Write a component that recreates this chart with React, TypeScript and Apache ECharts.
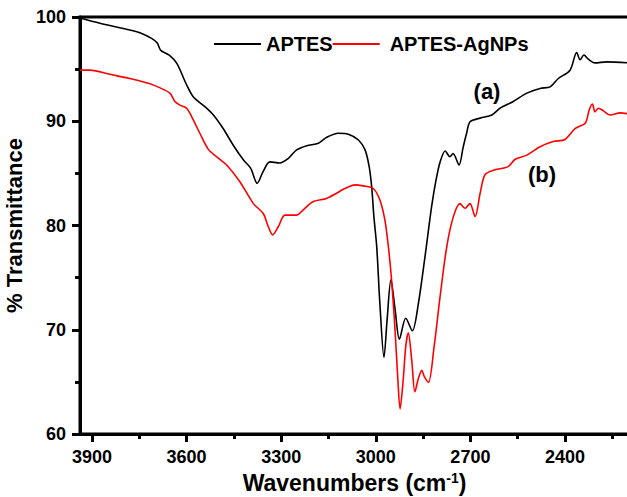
import React, { useEffect, useRef } from "react";
import * as echarts from "echarts";

const aptesWn = [3938, 3875, 3780, 3748, 3711, 3693, 3682, 3655, 3631, 3600, 3579, 3542, 3515, 3484, 3452, 3420, 3397, 3376, 3357, 3336, 3304, 3277, 3251, 3219, 3182, 3156, 3119, 3087, 3055, 3034, 3021, 3013, 3006, 2997, 2987, 2974, 2964, 2952, 2939, 2925, 2905, 2884, 2865, 2844, 2823, 2809, 2796, 2780, 2765, 2755, 2736, 2723, 2712, 2701, 2669, 2632, 2606, 2564, 2521, 2479, 2447, 2421, 2384, 2363, 2352, 2340, 2326, 2305, 2268, 2197];
const aptesT = [99.9, 99.4, 98.75, 98.5, 97.95, 97.5, 96.8, 96.35, 95.55, 93.5, 92.35, 91.4, 90.6, 89.3, 87.7, 86.3, 85.5, 84.05, 85.2, 86.1, 86.0, 86.45, 87.25, 87.65, 87.9, 88.45, 88.85, 88.75, 88.2, 87.25, 85.65, 83.7, 80.85, 77.95, 72.5, 67.35, 71.0, 74.8, 72.0, 69.1, 71.1, 69.9, 72.5, 77.0, 81.8, 84.35, 86.1, 87.15, 86.6, 86.9, 85.8, 87.5, 88.85, 89.95, 90.3, 90.6, 91.25, 91.9, 92.7, 93.15, 93.3, 94.1, 94.9, 96.6, 95.9, 96.35, 95.95, 95.6, 95.7, 95.6];

const agWn = [3938, 3906, 3843, 3780, 3716, 3684, 3653, 3637, 3621, 3600, 3584, 3558, 3531, 3505, 3473, 3431, 3388, 3357, 3341, 3327, 3309, 3288, 3251, 3230, 3198, 3156, 3124, 3098, 3066, 3040, 3008, 2987, 2971, 2960, 2950, 2939, 2930, 2923, 2913, 2905, 2897, 2886, 2876, 2865, 2854, 2846, 2833, 2815, 2796, 2775, 2754, 2733, 2717, 2707, 2701, 2685, 2669, 2654, 2627, 2580, 2558, 2521, 2479, 2437, 2400, 2368, 2336, 2323, 2313, 2305, 2294, 2278, 2257, 2225, 2197];
const agT = [94.9, 94.9, 94.5, 94.1, 93.6, 93.2, 92.7, 91.9, 91.55, 91.25, 90.45, 88.85, 87.3, 86.6, 85.8, 84.2, 82.1, 81.15, 79.9, 79.1, 79.9, 81.0, 81.0, 81.5, 82.3, 82.6, 83.1, 83.55, 83.9, 83.8, 83.55, 82.45, 80.5, 77.95, 74.8, 70.0, 65.2, 62.4, 65.2, 68.4, 69.7, 67.1, 64.05, 65.3, 66.1, 65.5, 64.95, 68.4, 73.2, 77.95, 80.85, 82.1, 81.65, 81.95, 82.1, 80.85, 83.1, 84.85, 85.3, 85.65, 86.35, 86.75, 87.55, 88.05, 88.25, 89.3, 89.8, 91.1, 91.65, 90.9, 91.25, 91.0, 90.6, 90.8, 90.7];

const majorX = [3900, 3600, 3300, 3000, 2700, 2400];
const minorX = [3750, 3450, 3150, 2850, 2550, 2250];
const seriesNames = ["APTES", "APTES-AgNPs"];
const annotations = ["(a)", "(b)"];

const FONT = "Liberation Sans, Arial, sans-serif";

export default function App() {
  const ref = useRef<HTMLDivElement>(null);
  useEffect(() => {
    if (!ref.current) return;
    const chart = echarts.init(ref.current, null, { renderer: "svg" });
    const black = "#000000";
    const xRange = { min: 2197, max: 3938 };
    chart.setOption({
      animation: false,
      grid: {
        left: 80,
        top: 17,
        right: -2,
        bottom: 63,
        outerBoundsMode: "none",
        show: true,
        borderColor: black,
        borderWidth: 3,
        backgroundColor: "transparent",
      },
      legend: {
        left: 209,
        top: 29,
        icon: "rect",
        itemWidth: 47,
        itemHeight: 2,
        itemGap: 0,
        data: [
          { name: seriesNames[0] },
          { name: seriesNames[1], textStyle: { padding: [0, 0, 0, 5] } },
        ],
        textStyle: { fontFamily: FONT, fontSize: 20, fontWeight: "bold", color: black },
      },
      xAxis: [
        {
          type: "value",
          inverse: true,
          ...xRange,
          axisLine: { show: true, onZero: false, lineStyle: { color: black, width: 3 } },
          axisTick: { show: true, inside: false, customValues: majorX, length: 8, lineStyle: { width: 3, color: black } },
          axisLabel: {
            customValues: majorX,
            formatter: (v: number) => String(v),
            fontFamily: FONT,
            fontSize: 18,
            fontWeight: "bold",
            color: black,
            margin: 14,
          },
          splitLine: { show: false },
          name: "Wavenumbers (cm{sup|-1})",
          nameLocation: "middle",
          nameGap: 33,
          nameTextStyle: {
            fontFamily: FONT,
            fontSize: 23,
            fontWeight: "bold",
            color: black,
            rich: {
              sup: { fontFamily: FONT, fontSize: 14, fontWeight: "bold", color: black, verticalAlign: "bottom", padding: [0, 0, 10, 0] },
            },
          },
        },
        {
          type: "value",
          inverse: true,
          ...xRange,
          position: "bottom",
          axisLine: { show: false, onZero: false },
          axisTick: { show: true, inside: false, customValues: minorX, length: 5, lineStyle: { width: 3, color: black } },
          axisLabel: { show: false },
          splitLine: { show: false },
        },
      ],
      yAxis: {
        type: "value",
        min: 60,
        max: 100,
        interval: 10,
        axisLine: { show: true, onZero: false, lineStyle: { color: black, width: 3 } },
        axisTick: { show: true, inside: false, length: 8, lineStyle: { width: 3, color: black } },
        minorTick: { show: true, splitNumber: 2, length: 5, lineStyle: { width: 3, color: black } },
        axisLabel: { fontFamily: FONT, fontSize: 18, fontWeight: "bold", color: black, margin: 14 },
        splitLine: { show: false },
        name: "% Transmittance",
        nameLocation: "middle",
        nameRotate: 90,
        nameGap: 50,
        nameTextStyle: { fontFamily: FONT, fontSize: 22, fontWeight: "bold", color: black },
      },
      series: [
        {
          name: seriesNames[0],
          type: "line",
          xAxisIndex: 0,
          data: aptesWn.map((w, i) => [w, aptesT[i]]),
          showSymbol: false,
          symbol: "none",
          smooth: 0.3,
          lineStyle: { color: "#000000", width: 1.6 },
          itemStyle: { color: "#000000" },
        },
        {
          name: seriesNames[1],
          type: "line",
          xAxisIndex: 0,
          data: agWn.map((w, i) => [w, agT[i]]),
          showSymbol: false,
          symbol: "none",
          smooth: 0.3,
          lineStyle: { color: "#ff0000", width: 1.6 },
          itemStyle: { color: "#ff0000" },
        },
      ],
      graphic: [
        {
          type: "text",
          x: 487,
          y: 91,
          style: { text: annotations[0], align: "center", verticalAlign: "middle", fontFamily: FONT, fontSize: 22, fontWeight: "bold", fill: black },
        },
        {
          type: "text",
          x: 542,
          y: 174,
          style: { text: annotations[1], align: "center", verticalAlign: "middle", fontFamily: FONT, fontSize: 22, fontWeight: "bold", fill: black },
        },
      ],
    });
    return () => chart.dispose();
  }, []);
  return (
    <div
      ref={ref}
      style={{ position: "absolute", left: 0, top: 0, width: 627, height: 497, background: "#fff" }}
    />
  );
}
